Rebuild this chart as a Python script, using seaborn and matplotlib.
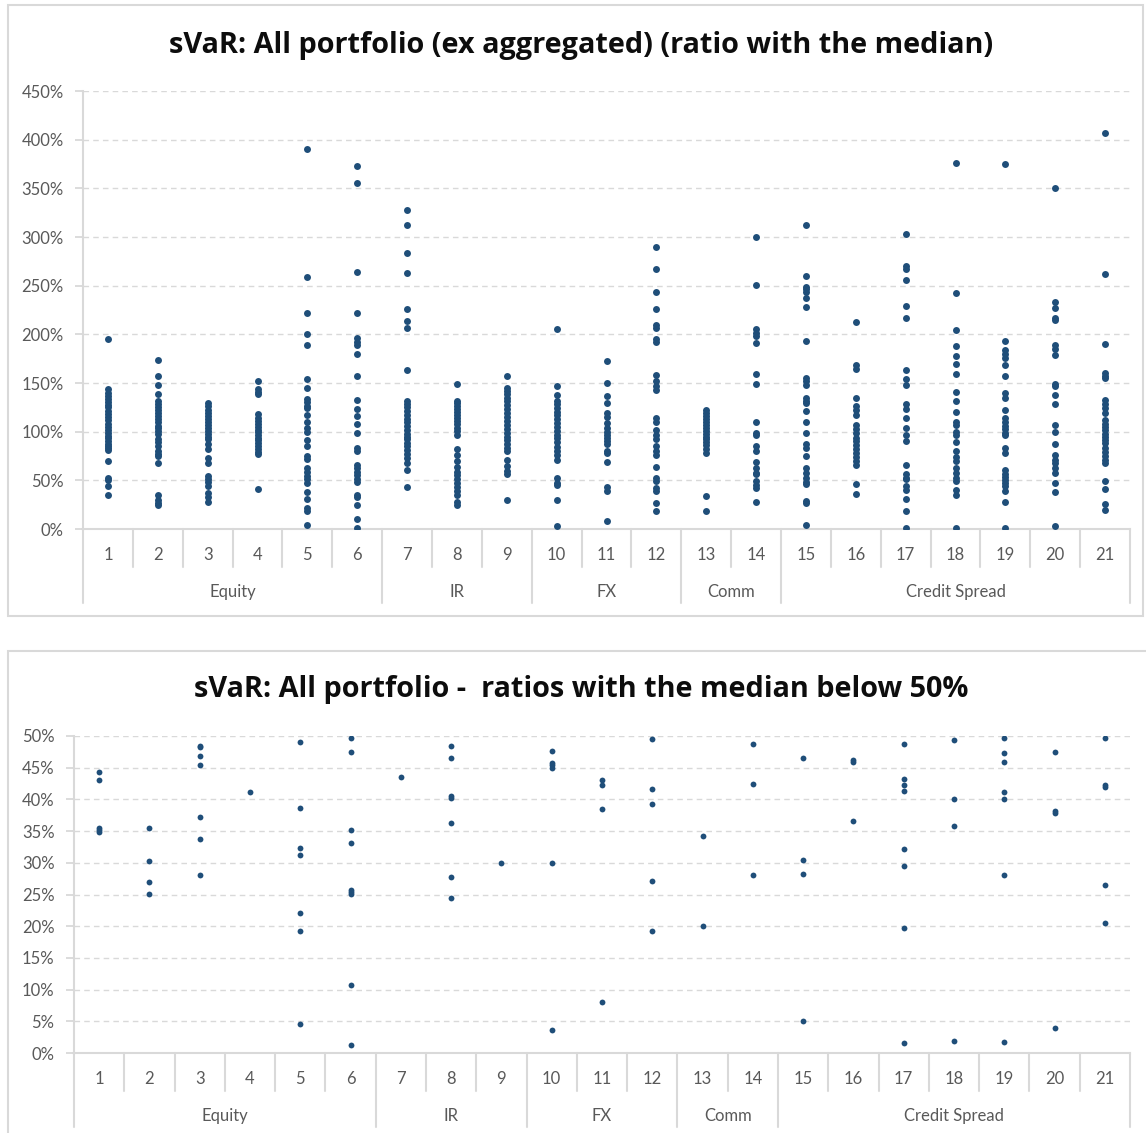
import matplotlib
matplotlib.use('Agg')
import matplotlib.pyplot as plt
import matplotlib.transforms as mtransforms
from matplotlib.patches import Rectangle
import seaborn as sns
import pandas as pd

# categories and groups
categories = [str(i) for i in range(1, 22)]
groups = ['Equity'] * 6 + ['IR'] * 3 + ['FX'] * 3 + ['Comm'] * 2 + ['Credit Spread'] * 7

# ratio with the median (%) per portfolio category, all values
all_ratios = [
    [195, 144, 140, 137, 134, 130, 127, 125, 121, 118, 115, 112, 108, 105, 102, 99, 96, 93, 90, 87, 85, 83, 81, 70, 52, 50, 44, 35],
    [174, 157, 148, 139, 131, 128, 125, 122, 119, 116, 113, 110, 106, 104, 101, 98, 92, 89, 85, 80, 77, 75, 68, 35, 30, 27, 25],
    [129, 126, 122, 119, 116, 113, 110, 107, 104, 101, 98, 95, 92, 87, 82, 73, 68, 54, 51, 48, 44, 37, 33, 28],
    [152, 144, 141, 139, 118, 114, 111, 108, 105, 102, 100, 97, 94, 91, 88, 85, 82, 79, 77, 41],
    [390, 259, 222, 200, 189, 154, 145, 134, 130, 126, 124, 117, 110, 104, 100, 91, 85, 75, 72, 63, 59, 54, 51, 47, 38, 31, 22, 19, 4],
    [373, 355, 264, 222, 196, 192, 189, 180, 157, 133, 123, 116, 108, 99, 83, 80, 66, 63, 59, 55, 51, 48, 35, 33, 25, 10, 1],
    [328, 312, 284, 263, 226, 214, 207, 163, 132, 128, 125, 121, 117, 113, 110, 106, 102, 98, 95, 92, 88, 85, 81, 77, 73, 68, 61, 43],
    [149, 132, 129, 126, 123, 120, 117, 114, 111, 108, 104, 101, 97, 82, 76, 70, 64, 59, 55, 51, 47, 43, 39, 35, 28, 25],
    [157, 145, 142, 139, 135, 131, 127, 123, 119, 115, 111, 107, 103, 99, 95, 91, 87, 83, 80, 71, 65, 60, 56, 30],
    [205, 147, 138, 131, 128, 124, 120, 117, 113, 109, 105, 101, 97, 93, 89, 84, 80, 76, 71, 52, 47, 45, 30, 3],
    [173, 150, 137, 129, 119, 115, 109, 104, 100, 97, 94, 90, 87, 80, 78, 69, 43, 39, 8],
    [290, 267, 243, 226, 210, 207, 195, 192, 158, 152, 147, 143, 114, 110, 102, 97, 92, 85, 80, 76, 64, 52, 49, 42, 39, 27, 19],
    [122, 119, 116, 113, 110, 107, 104, 101, 98, 95, 92, 89, 86, 82, 78, 34, 19],
    [300, 251, 205, 201, 198, 191, 159, 149, 110, 99, 97, 85, 80, 69, 63, 58, 56, 49, 45, 42, 28],
    [312, 260, 249, 247, 243, 237, 228, 193, 155, 152, 148, 135, 131, 129, 121, 110, 99, 87, 83, 75, 63, 58, 52, 48, 46, 29, 27, 4],
    [213, 169, 164, 135, 126, 122, 117, 107, 103, 99, 93, 90, 86, 82, 78, 74, 70, 66, 46, 36],
    [303, 270, 267, 256, 229, 217, 163, 154, 148, 128, 123, 114, 104, 97, 90, 66, 57, 52, 51, 44, 40, 31, 19, 1],
    [376, 242, 204, 188, 178, 170, 159, 141, 131, 120, 110, 107, 100, 97, 89, 80, 74, 70, 63, 58, 52, 49, 40, 35, 1],
    [375, 193, 184, 180, 176, 169, 157, 140, 135, 122, 114, 110, 106, 103, 99, 97, 83, 78, 61, 57, 53, 50, 47, 44, 39, 28, 1],
    [350, 233, 227, 217, 215, 189, 185, 179, 149, 147, 138, 128, 107, 100, 87, 76, 71, 68, 63, 58, 47, 38, 3],
    [407, 262, 190, 160, 157, 155, 133, 128, 124, 119, 112, 108, 105, 102, 98, 95, 91, 88, 83, 79, 75, 71, 68, 49, 41, 26, 20],
]

# ratios below 50% per category
low_ratios = [
    [44.3, 43.0, 35.5, 35.2, 34.9],
    [35.5, 30.3, 26.9, 25.1],
    [48.5, 48.2, 46.8, 45.5, 37.2, 33.8, 28.1],
    [41.2],
    [49.1, 38.6, 32.4, 31.2, 22.1, 19.3, 4.6],
    [49.7, 47.4, 35.2, 33.1, 25.7, 25.4, 25.1, 10.7, 1.2],
    [43.5],
    [48.4, 46.6, 40.5, 40.2, 36.2, 27.8, 24.5],
    [29.9],
    [47.6, 45.7, 45.4, 45.0, 29.9, 3.7],
    [43.1, 42.2, 38.5, 8.0],
    [49.6, 41.7, 39.3, 27.2, 19.3],
    [34.3, 20.0],
    [48.7, 42.5, 28.0],
    [46.6, 30.5, 28.3, 5.1],
    [46.2, 45.9, 36.6],
    [48.7, 43.2, 42.2, 41.4, 32.1, 29.5, 19.7, 1.6],
    [49.3, 40.0, 35.8, 1.9],
    [49.7, 47.3, 45.9, 41.1, 40.0, 28.0, 1.7],
    [47.4, 38.2, 37.9, 3.9],
    [49.7, 42.2, 42.0, 26.5, 20.5],
]

top_ticks = [0, 50, 100, 150, 200, 250, 300, 350, 400, 450]
bottom_ticks = [0, 5, 10, 15, 20, 25, 30, 35, 40, 45, 50]

DOT = '#1F4E79'
GRID = '#d9d9d9'
TXT = '#595959'
W, H = 1146, 1133

sns.set_style('white')
plt.rcParams['font.family'] = ['Lato', 'DejaVu Sans']


def to_frame(values):
    rows = []
    for cat, vals in zip(categories, values):
        for v in vals:
            rows.append({'cat': cat, 'ratio': v})
    return pd.DataFrame(rows)


def draw_panel(fig, rect, values, ticks, dot_size, title, title_y):
    ax = fig.add_axes(rect)
    df = to_frame(values)
    sns.stripplot(data=df, x='cat', y='ratio', order=categories, jitter=False,
                  color=DOT, size=dot_size, linewidth=0, ax=ax, zorder=3)
    ax.set_xlim(-0.5, len(categories) - 0.5)
    ax.set_ylim(ticks[0], ticks[-1])
    ax.set_yticks(ticks)
    ax.set_yticklabels([f'{t}%' for t in ticks])
    ax.set_xticks([])
    ax.set_xlabel('')
    ax.set_ylabel('')
    ax.yaxis.grid(True, color=GRID, linestyle=(0, (4, 3)), linewidth=1)
    ax.set_axisbelow(True)
    ax.tick_params(axis='y', colors=GRID, labelcolor=TXT, labelsize=12,
                   length=6, width=1.3, pad=8, left=True)
    for s in ['top', 'right']:
        ax.spines[s].set_visible(False)
    for s in ['left', 'bottom']:
        ax.spines[s].set_color(GRID)
        ax.spines[s].set_linewidth(1.5)

    # multi-level category axis
    ax_h = rect[3] * H
    frac = lambda px: -px / ax_h
    trans = mtransforms.blended_transform_factory(ax.transData, ax.transAxes)
    n = len(categories)
    for i, c in enumerate(categories):
        ax.text(i, frac(26), c, transform=trans, ha='center', va='center',
                fontsize=12, color=TXT)
    for i in range(n + 1):
        edge = i - 0.5
        is_group_edge = i == 0 or i == n or groups[i] != groups[i - 1]
        low = frac(74) if is_group_edge else frac(38)
        ax.plot([edge, edge], [0, low], transform=trans, color=GRID,
                lw=1.5, clip_on=False, zorder=1)
    start = 0
    for i in range(1, n + 1):
        if i == n or groups[i] != groups[start]:
            ax.text((start + i - 1) / 2, frac(63), groups[start], transform=trans,
                    ha='center', va='center', fontsize=12, color=TXT)
            start = i

    fig.text(581 / W, 1 - title_y / H, title, ha='center', va='center',
             fontsize=20.8, fontweight='bold', color='#0d0d0d',
             family=['Open Sans', 'DejaVu Sans'])
    return ax


fig = plt.figure(figsize=(W / 100, H / 100), dpi=100)

# chart frames
fig.add_artist(Rectangle((8 / W, 1 - 616 / H), (1143 - 8) / W, (616 - 5) / H,
                         transform=fig.transFigure, fill=False,
                         edgecolor=GRID, linewidth=1.5))
fig.add_artist(Rectangle((8 / W, -0.05), 1.0, 1 - 651 / H + 0.05,
                         transform=fig.transFigure, fill=False,
                         edgecolor=GRID, linewidth=1.5))

draw_panel(fig, [83 / W, 1 - 529 / H, 1047 / W, 438 / H], all_ratios, top_ticks, 5,
           'sVaR: All portfolio (ex aggregated) (ratio with the median)', 45)
draw_panel(fig, [74 / W, 1 - 1053 / H, 1056 / W, 317 / H], low_ratios, bottom_ticks, 4.2,
           'sVaR: All portfolio -  ratios with the median below 50%', 690)

fig.savefig('out.png', dpi=100)
